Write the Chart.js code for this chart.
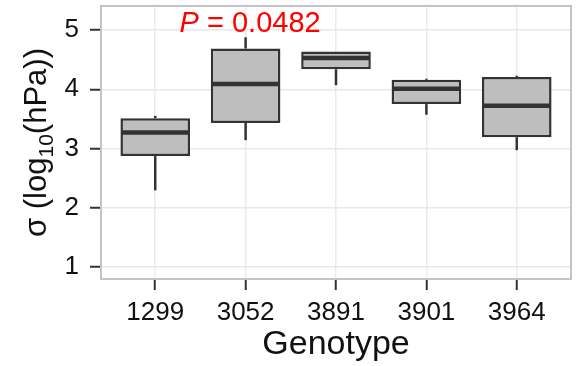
<!DOCTYPE html>
<html>
<head>
<meta charset="utf-8">
<script src="https://cdn.jsdelivr.net/npm/chart.js@4"></script>
<style>
  html, body { margin: 0; padding: 0; background: #fff; }
</style>
</head>
<body>
<canvas id="boxChart" width="577" height="366"></canvas>
<script>
// values
var genotypes   = ['1299', '3052', '3891', '3901', '3964'];
var whiskerLow  = [2.29, 3.14, 4.07, 3.57, 2.97];
var boxLow      = [2.87, 3.43, 4.34, 3.75, 3.19];
var medians     = [3.27, 4.09, 4.53, 4.01, 3.72];
var boxHigh     = [3.51, 4.69, 4.64, 4.16, 4.21];
var whiskerHigh = [3.55, 4.88, 4.64, 4.18, 4.23];
var yTicks      = [1, 2, 3, 4, 5];
var pValue      = '0.0482';

var family = "'Liberation Sans', Arial, Helvetica, sans-serif";
var dark = '#333333';

function points(lo, hi) {
  return genotypes.map(function (g, i) { return { x: i + 1, y: [lo[i], hi[i]] }; });
}

// major ticks plus the minor ones half way between
var yAllTicks = [];
yTicks.forEach(function (t, i) {
  yAllTicks.push(t);
  if (i < yTicks.length - 1) yAllTicks.push((t + yTicks[i + 1]) / 2);
});

function isMajor(v) { return yTicks.indexOf(v) !== -1; }

var medianPlugin = {
  id: 'medians',
  afterDatasetsDraw: function (chart) {
    var ctx = chart.ctx;
    var meta = chart.getDatasetMeta(0);
    var y = chart.scales.y;
    ctx.save();
    ctx.strokeStyle = dark;
    ctx.lineWidth = 4.5;
    meta.data.forEach(function (bar, i) {
      var py = y.getPixelForValue(medians[i]);
      ctx.beginPath();
      ctx.moveTo(bar.x - bar.width / 2 + 1, py);
      ctx.lineTo(bar.x + bar.width / 2 - 1, py);
      ctx.stroke();
    });
    ctx.restore();
  }
};

var decorPlugin = {
  id: 'decor',
  afterDraw: function (chart) {
    var ctx = chart.ctx, a = chart.chartArea;
    ctx.save();
    // panel border
    ctx.strokeStyle = '#c4c4c4';
    ctx.lineWidth = 2;
    ctx.strokeRect(a.left, a.top, a.right - a.left, a.bottom - a.top);

    // y title with subscript
    var big = '31px ' + family, small = '21px ' + family;
    var parts = [['σ (log', big, 0], ['10', small, 7], ['(hPa))', big, 0]];
    var total = 0;
    parts.forEach(function (p) { ctx.font = p[1]; p.push(ctx.measureText(p[0]).width); total += p[3]; });
    ctx.translate(46, (a.top + a.bottom) / 2);
    ctx.rotate(-Math.PI / 2);
    ctx.fillStyle = '#111';
    ctx.textBaseline = 'alphabetic';
    var x = -total / 2;
    parts.forEach(function (p) { ctx.font = p[1]; ctx.fillText(p[0], x, p[2]); x += p[3]; });
    ctx.restore();

    // p-value note
    ctx.save();
    var px = chart.scales.x.getPixelForValue(2.05);
    var py = chart.scales.y.getPixelForValue(4.97);
    var rest = ' = ' + pValue;
    ctx.font = 'italic 29px ' + family;
    var wP = ctx.measureText('P').width;
    ctx.font = '29px ' + family;
    var wR = ctx.measureText(rest).width;
    ctx.fillStyle = '#ff0000';
    ctx.textBaseline = 'alphabetic';
    var sx = px - (wP + wR) / 2;
    ctx.font = 'italic 29px ' + family;
    ctx.fillText('P', sx, py);
    ctx.font = '29px ' + family;
    ctx.fillText(rest, sx + wP, py);
    ctx.restore();
  }
};

var ctx = document.getElementById('boxChart').getContext('2d');
var boxChart = new Chart(ctx, {
  type: 'bar',
  data: {
    datasets: [{
      label: 'box',
      data: points(boxLow, boxHigh),
      backgroundColor: '#bebebe',
      borderColor: dark,
      borderWidth: 2.5,
      borderSkipped: false,
      grouped: false,
      categoryPercentage: 1,
      barPercentage: 0.77,
      order: 0
    }, {
      label: 'lower whisker',
      data: points(whiskerLow, boxLow),
      backgroundColor: dark,
      borderWidth: 0,
      grouped: false,
      maxBarThickness: 2.5,
      order: 1
    }, {
      label: 'upper whisker',
      data: points(boxHigh, whiskerHigh),
      backgroundColor: dark,
      borderWidth: 0,
      grouped: false,
      maxBarThickness: 2.5,
      order: 1
    }]
  },
  options: {
    responsive: false,
    animation: false,
    devicePixelRatio: 1,
    layout: { padding: { top: 6, right: 6, left: 0, bottom: 0 } },
    plugins: { legend: { display: false }, tooltip: { enabled: false } },
    scales: {
      x: {
        type: 'linear',
        min: 0.4,
        max: 5.6,
        offset: false,
        afterBuildTicks: function (scale) {
          scale.ticks = genotypes.map(function (g, i) { return { value: i + 1 }; });
        },
        afterFit: function (scale) {
          scale.height = 87;
          scale.paddingLeft = 0;
          scale.paddingRight = 0;
        },
        border: { display: false },
        grid: { offset: false, color: '#ebebeb', lineWidth: 1.5, tickLength: 11, tickColor: dark, tickWidth: 2 },
        ticks: {
          callback: function (v) { return genotypes[v - 1]; },
          color: '#111',
          font: { size: 26, family: family },
          padding: 7,
          maxRotation: 0,
          autoSkip: false
        },
        title: {
          display: true,
          text: 'Genotype',
          color: '#111',
          font: { size: 34, family: family },
          padding: { top: 0, bottom: 1 }
        }
      },
      y: {
        min: 0.79,
        max: 5.41,
        afterBuildTicks: function (scale) {
          scale.ticks = yAllTicks.map(function (v) { return { value: v }; });
        },
        afterFit: function (scale) {
          scale.width = 101;
          scale.paddingTop = 0;
          scale.paddingBottom = 0;
        },
        border: { display: false },
        grid: {
          color: function (c) { return isMajor(c.tick.value) ? '#e8e8e8' : '#f3f3f3'; },
          lineWidth: 1.5,
          tickLength: 11,
          tickColor: function (c) { return isMajor(c.tick.value) ? dark : 'rgba(0,0,0,0)'; },
          tickWidth: 2
        },
        ticks: {
          callback: function (v) { return isMajor(v) ? String(v) : ''; },
          color: '#111',
          font: { size: 26, family: family },
          padding: 11
        }
      }
    }
  },
  plugins: [medianPlugin, decorPlugin]
});
</script>
</body>
</html>
